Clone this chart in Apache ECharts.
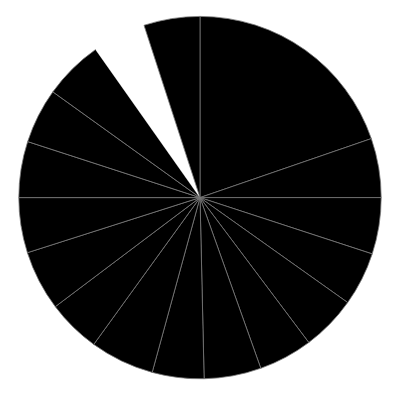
<!DOCTYPE html>
<html>
<head>
<meta charset="utf-8">
<script src="https://cdn.jsdelivr.net/npm/echarts@6/dist/echarts.min.js"></script>
<style>
  html, body { margin: 0; padding: 0; background: #fff; }
  #main { width: 400px; height: 400px; }
</style>
</head>
<body>
<div id="main"></div>
<script>
const sliceNames = ['A', 'B', 'C', 'D', 'E', 'F', 'G', 'H', 'I', 'J', 'K', 'L', 'M', 'N', 'O', 'P', 'Q']
const sliceValues = [71, 19, 18.1, 17.3, 17.7, 17.3, 18.3, 16.6, 20.6, 17.1, 19.3, 17.7, 18, 17.7, 19.1, 17.2, 18]
// the empty wedge top-left
const gapName = 'P'

const data = sliceNames.map((name, i) => {
  const item = { name: name, value: sliceValues[i] }
  if (name === gapName) {
    item.itemStyle = { color: '#fff', borderWidth: 0 }
  }
  return item
})

const myChart = echarts.init(document.getElementById('main'))
const option = {
  animation: false,
  series: [
    {
      type: 'pie',
      center: ['50%', '49.4%'],
      radius: '90.6%',
      startAngle: 90,
      clockwise: true,
      avoidLabelOverlap: false,
      label: { show: false },
      labelLine: { show: false },
      emphasis: { disabled: true },
      itemStyle: {
        color: '#000',
        borderColor: '#7a7a7a',
        borderWidth: 0.8
      },
      data: data
    }
  ]
}
myChart.setOption(option)
</script>
</body>
</html>
